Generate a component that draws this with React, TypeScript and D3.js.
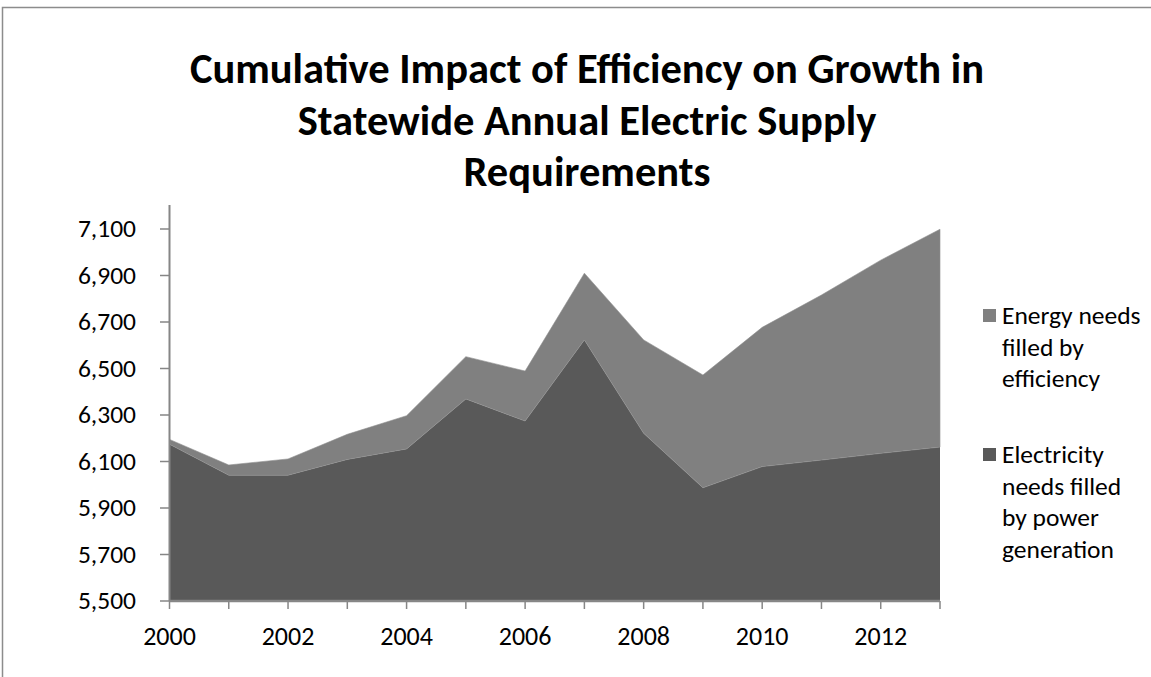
import React from "react";
import * as d3 from "d3";

const years = [2000, 2001, 2002, 2003, 2004, 2005, 2006, 2007, 2008, 2009, 2010, 2011, 2012, 2013];
const generation = [6174, 6041, 6041, 6109, 6154, 6369, 6274, 6623, 6221, 5987, 6078, 6106, 6135, 6162];
const efficiency = [21, 44, 70, 108, 143, 182, 215, 287, 402, 485, 599, 710, 831, 937];
const yTicks = [5500, 5700, 5900, 6100, 6300, 6500, 6700, 6900, 7100];
const xLabelYears = [2000, 2002, 2004, 2006, 2008, 2010, 2012];
const titleLines = [
  "Cumulative Impact of Efficiency on Growth in",
  "Statewide Annual Electric Supply",
  "Requirements",
];
const legendEntries = [
  { key: "efficiency", lines: ["Energy needs", "filled by", "efficiency"], color: "#808080" },
  { key: "generation", lines: ["Electricity", "needs filled", "by power", "generation"], color: "#595959" },
];

const FONT = "Carlito, Calibri, Lato, 'Open Sans', sans-serif";

export default function App() {
  const W = 1151;
  const H = 677;
  const x = d3.scaleLinear().domain([2000, 2013]).range([169.5, 940]);
  const y = d3.scaleLinear().domain([5500, 7100]).range([601, 229]);

  const rows = years.map((yr, i) => ({ year: yr, generation: generation[i], efficiency: efficiency[i] }));
  const stack = d3.stack<any>().keys(["generation", "efficiency"]);
  const series = stack(rows);
  const areaTop = d3
    .area<any>()
    .x((d) => x(d.data.year))
    .y0((d) => y(d[0]))
    .y1((d) => y(d[1]));
  const areaBottom = d3
    .area<any>()
    .x((d) => x(d.data.year))
    .y0(() => y(5500))
    .y1((d) => y(d[1]));
  const colors: Record<string, string> = { generation: "#595959", efficiency: "#808080" };

  const axisColor = "#868686";

  return (
    <svg
      width={W}
      height={H}
      style={{ position: "absolute", left: 0, top: 0, background: "#fff" }}
      fontFamily={FONT}
    >
      <rect x={0} y={0} width={W} height={H} fill="#fff" />
      <path d={`M2.5,${H + 5} L2.5,7.5 L${W + 5},7.5`} fill="none" stroke="#8c8c8c" strokeWidth={1.5} />

      {titleLines.map((t, i) => (
        <text
          key={i}
          x={587}
          y={83 + i * 51.5}
          textAnchor="middle"
          fontWeight="bold"
          fontSize={42.5}
          fill="#000"
        >
          {t}
        </text>
      ))}

      {series.map((s) => (
        <path
          key={s.key}
          d={(s.key === "generation" ? areaBottom(s as any) : areaTop(s as any)) || ""}
          fill={colors[s.key]}
          stroke={s.key === "efficiency" ? "#8e8e8e" : "none"}
          strokeWidth={0.6}
        />
      ))}

      <line x1={169.5} x2={169.5} y1={205} y2={601} stroke={axisColor} strokeWidth={2} />
      {yTicks.map((v) => (
        <g key={v}>
          <line x1={160} x2={169.5} y1={y(v)} y2={y(v)} stroke={axisColor} strokeWidth={1.5} />
          <text x={136} y={y(v) + 8} textAnchor="end" fontSize={25.5} fill="#000">
            {d3.format(",")(v)}
          </text>
        </g>
      ))}

      <line x1={169.5} x2={940} y1={601} y2={601} stroke={axisColor} strokeWidth={2.5} />
      {years.map((yr) => (
        <line key={yr} x1={x(yr)} x2={x(yr)} y1={601} y2={609} stroke={axisColor} strokeWidth={1.5} />
      ))}
      {xLabelYears.map((yr) => (
        <text key={yr} x={x(yr)} y={645} textAnchor="middle" fontSize={26} fill="#000">
          {yr}
        </text>
      ))}

      {legendEntries.map((e, i) => {
        const base = i === 0 ? 324 : 463;
        return (
          <g key={e.key}>
            <rect x={983} y={base - 15} width={13} height={13} fill={e.color} />
            {e.lines.map((ln, j) => (
              <text key={j} x={1002} y={base + j * 31.5} fontSize={25.5} fill="#000">
                {ln}
              </text>
            ))}
          </g>
        );
      })}
    </svg>
  );
}
